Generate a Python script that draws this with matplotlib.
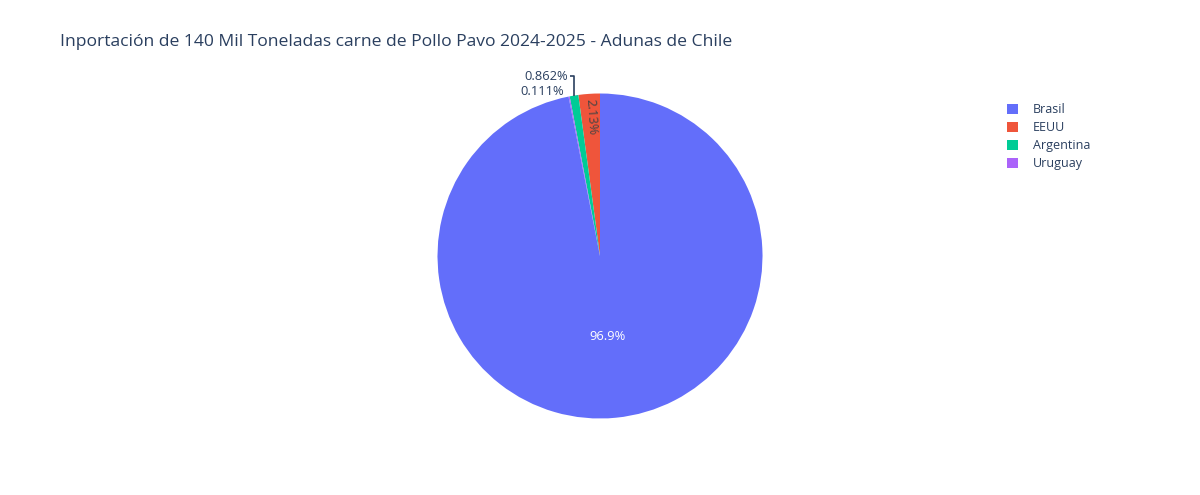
import numpy as np
import matplotlib.pyplot as plt
from matplotlib.patches import Patch

plt.rcParams['font.family'] = ['Open Sans', 'DejaVu Sans']

# data (legend order)
countries = ['Brasil', 'EEUU', 'Argentina', 'Uruguay']
shares = [96.9, 2.13, 0.862, 0.111]
labels_txt = ['96.9%', '2.13%', '0.862%', '0.111%']
colors = ['#636efa', '#EF553B', '#00cc96', '#ab63fa']

title = 'Inportación de 140 Mil Toneladas carne de Pollo Pavo 2024-2025 - Adunas de Chile'
txt_col = '#2a3f5f'

# drawing order around the pie (counterclockwise from 12 o'clock)
order = [1, 2, 3, 0]

W, H = 1200, 495
fig = plt.figure(figsize=(W / 100, H / 100), dpi=100)
R = 162.5
cx, cy = 600, 256
side = 400
ax = fig.add_axes([(cx - side / 2) / W, (H - cy - side / 2) / H, side / W, side / H])

wedges, _ = ax.pie([shares[i] for i in order], colors=[colors[i] for i in order],
                   startangle=90, counterclock=True, radius=1.0,
                   wedgeprops=dict(linewidth=0))
# pie() resets the limits, so set them afterwards
lim = side / 2 / R
ax.set_xlim(-lim, lim)
ax.set_ylim(-lim, lim)
ax.set_aspect('equal')
ax.axis('off')
wd = {order[k]: w for k, w in enumerate(wedges)}

def mid(w):
    return np.deg2rad((w.theta1 + w.theta2) / 2)

fs = 12 * 0.72 * 1.07

# Brasil inside label
a = mid(wd[0])
ax.text(0.5 * np.cos(a), 0.5 * np.sin(a), labels_txt[0], color='white',
        fontsize=fs, ha='center', va='center')

# EEUU inside, radial text
a = mid(wd[1])
ax.text(0.86 * np.cos(a), 0.86 * np.sin(a), labels_txt[1], color='#444444',
        fontsize=fs, ha='center', va='center', rotation=np.rad2deg(a) - 180,
        rotation_mode='anchor')

# small slices outside with leader line
a = mid(wd[2])
x0, y0 = np.cos(a), np.sin(a)
ax.plot([x0, x0, x0 - 0.025], [y0, 1.105, 1.105], color=txt_col, lw=1.2,
        solid_capstyle='butt', clip_on=False)
ax.text(x0 - 0.035, 1.105, labels_txt[2], color=txt_col, fontsize=fs,
        ha='right', va='center')
ax.text(x0 - 0.06, 1.012, labels_txt[3], color=txt_col, fontsize=fs,
        ha='right', va='center')

fig.text(60 / W, 1 - 42 / H, title, color=txt_col, fontsize=17.5 * 0.72,
         ha='left', va='center')

handles = [Patch(facecolor=c, edgecolor='none') for c in colors]
leg = fig.legend(handles, countries, loc='upper left',
                 bbox_to_anchor=(1001 / W, 1 - 97 / H), frameon=False,
                 fontsize=12 * 0.72 * 1.04, handlelength=0.9, handleheight=0.9,
                 handletextpad=1.15, labelspacing=0.4, borderpad=0)
for t in leg.get_texts():
    t.set_color(txt_col)

fig.savefig('out.png', dpi=100, facecolor='white')
